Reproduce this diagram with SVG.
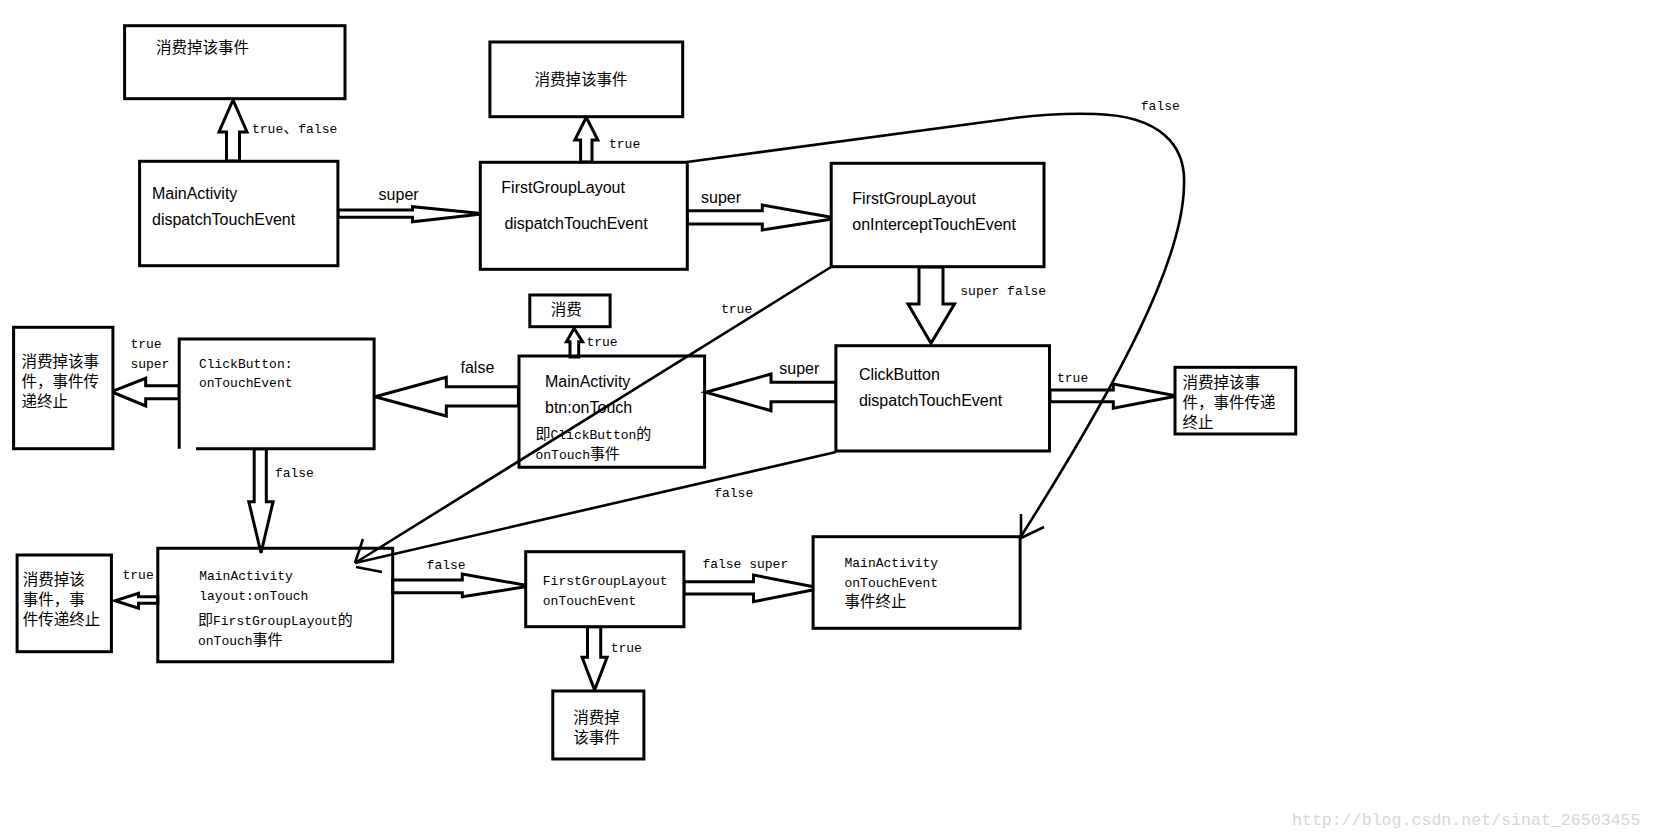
<svg xmlns="http://www.w3.org/2000/svg" width="1653" height="839" viewBox="0 0 1653 839">
<style>
.box{fill:#fff;stroke:#000;stroke-width:3}
.arr{fill:#fff;stroke:#000;stroke-width:3;stroke-linejoin:miter}
.ln{fill:none;stroke:#000;stroke-width:2.6}
.sans{font-family:"Liberation Sans","Noto Sans CJK SC",sans-serif;font-size:16px;fill:#000}
.mono{font-family:"Liberation Mono","Noto Sans CJK SC",monospace;font-size:13px;fill:#000}
.cjk{font-family:"Noto Sans CJK SC",sans-serif;font-size:15.5px;fill:#000}
.c{font-family:"Noto Sans CJK SC",sans-serif;font-size:15px}
.wm{font-family:"Liberation Mono",monospace;font-size:16.6px;fill:#d6d6d6}
</style>
<rect width="1653" height="839" fill="#fff"/>

<g id="connectors">
<polygon class="arr" points="226.5,161 226.5,132 219,132 233,100 247,132 239.5,132 239.5,161"/>
<polygon class="arr" points="338,210 412.5,210 412.5,206.7 484,213.7 412.5,221.7 412.5,217.3 338,217.3"/>
<polygon class="arr" points="580.6,162 580.6,140 574.8,140 586.3,117.3 597.8,140 592,140 592,162"/>
<polygon class="arr" points="687,210.7 762.3,210.7 762.3,205 837,218.3 762.3,230 762.3,224 687,224"/>
<polygon class="arr" points="919,267 919,304 908,304 931,343.3 954.5,304 943,304 943,267"/>
<polygon class="arr" points="1050,390 1113.3,390 1113.3,384 1177,396 1113.3,408.3 1113.3,401.7 1050,401.7"/>
<polygon class="arr" points="836,382.3 771,382.3 771,374 705.8,392.3 771,410.7 771,401.7 836,401.7"/>
<polygon class="arr" points="570,357 570,341.7 566.5,341.7 574.1,328.3 582.6,341.7 578.7,341.7 578.7,357"/>
<polygon class="arr" points="518.4,386.7 446.3,386.7 446.3,377.3 374.9,396.7 446.3,416 446.3,406 518.4,406"/>
<polygon class="arr" points="179.2,385.7 145.7,385.7 145.7,378.3 111.4,391.7 145.7,406 145.7,398.7 179.2,398.7"/>
<polygon class="arr" points="254.2,448.7 254.2,501.7 248.8,501.7 261,553 273.1,501.7 266.3,501.7 266.3,448.7"/>
<polygon class="arr" points="157.8,596.7 138.5,596.7 138.5,593.3 115,600.7 138.5,608.3 138.5,603.3 157.8,603.3"/>
<polygon class="arr" points="392.7,580 462.3,580 462.3,574 530,586 462.3,596.7 462.3,592.7 392.7,592.7"/>
<polygon class="arr" points="684,581.7 753.5,581.7 753.5,575 821.3,588.3 753.5,601.7 753.5,594 684,594"/>
<polygon class="arr" points="587.5,626.7 587.5,657.3 582.1,657.3 594.6,690 607.1,657.3 600.7,657.3 600.7,626.7"/>
<path class="ln" d="M687,162 L1000,120 C1040,114 1070,113 1096,114 C1160,116 1186,145 1184,185 C1183,260 1120,380 1020,538"/>
<path class="ln" d="M1021,514 L1021,538 M1044,527 L1021,538"/>
<path class="ln" d="M831,267 L355,563"/>
<path class="ln" d="M836,452 L355,563"/>
<path class="ln" d="M363,539 L355,563 M356,567 L382,572"/>
</g>

<g id="labels">
<text class="mono" x="252" y="133">true<tspan class="c">、</tspan>false</text>
<text class="sans" x="378.6" y="200">super</text>
<text class="mono" x="609" y="147.7">true</text>
<text class="sans" x="701" y="202.7">super</text>
<text class="mono" x="1140.8" y="110">false</text>
<text class="mono" x="960.3" y="295">super false</text>
<text class="mono" x="721" y="312.7">true</text>
<text class="mono" x="586.4" y="346">true</text>
<text class="sans" x="460.5" y="372.7">false</text>
<text class="sans" x="779.3" y="374">super</text>
<text class="mono" x="1057" y="382">true</text>
<text class="mono" x="130.4" y="348.3">true</text>
<text class="mono" x="130.4" y="368.3">super</text>
<text class="mono" x="274.9" y="476.7">false</text>
<text class="mono" x="714.2" y="497.3">false</text>
<text class="mono" x="122.5" y="579.3">true</text>
<text class="mono" x="426.6" y="569.3">false</text>
<text class="mono" x="702.4" y="568.3">false super</text>
<text class="mono" x="610.7" y="651.7">true</text>
</g>

<g id="n1"><rect class="box" x="124.6" y="25.7" width="220.4" height="73"/><text class="cjk" x="156" y="53">消费掉该事件</text></g>
<g id="n2"><rect class="box" x="139.6" y="161.3" width="198.3" height="104.4"/><text class="sans" x="152" y="199.3">MainActivity</text><text class="sans" x="152" y="225">dispatchTouchEvent</text></g>
<g id="n3"><rect class="box" x="489.9" y="42" width="192.8" height="74.7"/><text class="cjk" x="534.6" y="85">消费掉该事件</text></g>
<g id="n4"><rect class="box" x="480.3" y="162.3" width="207" height="107"/><text class="sans" x="501.3" y="193.3">FirstGroupLayout</text><text class="sans" x="504.4" y="229.3">dispatchTouchEvent</text></g>
<g id="n5"><rect class="box" x="831.2" y="163.3" width="212.8" height="103.4"/><text class="sans" x="852.3" y="204">FirstGroupLayout</text><text class="sans" x="852.3" y="230">onInterceptTouchEvent</text></g>
<g id="n6"><rect class="box" x="529.8" y="295" width="80.3" height="31.7"/><text class="cjk" x="550.8" y="315">消费</text></g>
<g id="n7"><path fill="none" stroke="#000" stroke-width="3" d="M519,356 H704.6 V467.3 H519 Z"/><text class="sans" x="545" y="387.3">MainActivity</text><text class="sans" x="545" y="413.3">btn:onTouch</text><text class="mono" x="535.5" y="439.3"><tspan class="c">即</tspan>ClickButton<tspan class="c">的</tspan></text><text class="mono" x="535.5" y="459.3">onTouch<tspan class="c">事件</tspan></text></g>
<g id="n8"><rect class="box" x="835.9" y="345.7" width="213.6" height="105.3"/><text class="sans" x="858.9" y="380">ClickButton</text><text class="sans" x="858.9" y="406">dispatchTouchEvent</text></g>
<g id="n9"><rect class="box" x="1175" y="367.3" width="120.7" height="66.7"/><text class="cjk" x="1182.4" y="388.3">消费掉该事</text><text class="cjk" x="1182.4" y="408.3">件，事件传递</text><text class="cjk" x="1182.4" y="428.3">终止</text></g>
<g id="n10"><rect class="box" x="13.6" y="327.3" width="99.3" height="121.4"/><text class="cjk" x="21.4" y="366.7">消费掉该事</text><text class="cjk" x="21.4" y="386.7">件，事件传</text><text class="cjk" x="21.4" y="406.7">递终止</text></g>
<g id="n11"><path fill="#fff" stroke="#000" stroke-width="3" d="M196,448.7 H374.1 V339 H179.2 V448.7"/><text class="mono" x="198.9" y="367.7">ClickButton:</text><text class="mono" x="198.9" y="387.3">onTouchEvent</text></g>
<g id="n12"><rect class="box" x="17.1" y="555" width="94.3" height="96.7"/><text class="cjk" x="22.8" y="585">消费掉该</text><text class="cjk" x="22.8" y="605">事件，事</text><text class="cjk" x="22.8" y="625">件传递终止</text></g>
<g id="n13"><path fill="none" stroke="#000" stroke-width="3" d="M157.8,548.3 H392.7 V661.7 H157.8 Z"/><text class="mono" x="199.2" y="580">MainActivity</text><text class="mono" x="199.2" y="600">layout:onTouch</text><text class="mono" x="198" y="625"><tspan class="c">即</tspan>FirstGroupLayout<tspan class="c">的</tspan></text><text class="mono" x="198" y="645">onTouch<tspan class="c">事件</tspan></text></g>
<g id="n14"><rect class="box" x="525.7" y="551.7" width="158.2" height="75"/><text class="mono" x="542.8" y="585">FirstGroupLayout</text><text class="mono" x="542.8" y="605">onTouchEvent</text></g>
<g id="n15"><rect class="box" x="813.1" y="536.7" width="207" height="91.6"/><text class="mono" x="844.5" y="566.7">MainActivity</text><text class="mono" x="844.5" y="586.7">onTouchEvent</text><text class="cjk" x="844.5" y="607.3">事件终止</text></g>
<g id="n16"><rect class="box" x="552.8" y="691" width="91.1" height="68"/><text class="cjk" x="573.2" y="723.3">消费掉</text><text class="cjk" x="573.2" y="743.3">该事件</text></g>

<text class="wm" x="1292" y="825">http://blog.csdn.net/sinat_26503455</text>
</svg>
